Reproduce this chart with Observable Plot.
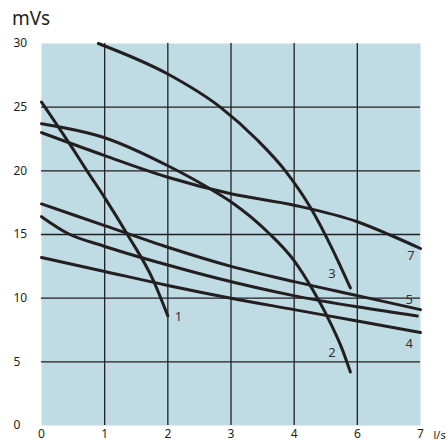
<!DOCTYPE html>
<html><head><meta charset="utf-8">
<script src="https://cdn.jsdelivr.net/npm/d3@7"></script>
<script src="https://cdn.jsdelivr.net/npm/@observablehq/plot@0.6"></script>
<style>
body{margin:0;background:#fff;font-family:"Noto Sans",Lato,sans-serif;color:#231f20;}
#title{height:32px;box-sizing:border-box;padding:9px 0 0 12px;font-size:19px;line-height:19px;}
</style></head>
<body>
<div id="title">mVs</div>
<div id="chart"></div>
<script>
// x positions 0..6 on the grid, labelled as in the original
const xTicks = [0, 1, 2, 3, 4, 5, 6];
const xTickLabels = ["0", "1", "2", "3", "4", "6", "7"];
const yTicks = [0, 5, 10, 15, 20, 25, 30];

const curve1X = [0, 0.5, 0.72, 1, 1.36, 1.77, 2];
const curve1Y = [25.4, 21.7, 20, 17.9, 15, 11.4, 8.6];
const curve2X = [0, 1, 2, 2.7, 3.02, 3.58, 3.99, 4.3, 4.53, 4.76, 4.89];
const curve2Y = [23.7, 22.6, 20.4, 18.5, 17.5, 15.2, 13.0, 10.6, 8.5, 6.0, 4.2];
const curve3X = [0.9, 2, 2.83, 3.42, 3.86, 4.26, 4.62, 4.89];
const curve3Y = [30, 27.6, 25.0, 22.4, 20.0, 17.1, 13.7, 10.8];
const curve4X = [0, 1, 2, 3, 4, 5, 6];
const curve4Y = [13.2, 12.1, 11.0, 10.0, 9.1, 8.2, 7.3];
const curve5X = [0, 1, 2, 3, 4, 5, 6];
const curve5Y = [17.4, 15.7, 14.0, 12.5, 11.3, 10.2, 9.1];
const curve6X = [0, 0.41, 0.98, 2, 2.83, 3.99, 5.02, 5.95];
const curve6Y = [16.4, 15.1, 14.1, 12.6, 11.5, 10.2, 9.3, 8.6];
const curve7X = [0, 1, 2, 3, 4, 5, 5.5, 6];
const curve7Y = [23.0, 21.2, 19.5, 18.2, 17.3, 16.0, 15.0, 13.9];

const labelText = ["1", "2", "3", "4", "5", "7"];
const labelX = [2.17, 4.6, 4.6, 5.82, 5.82, 5.85];
const labelY = [8.5, 5.7, 11.9, 6.4, 9.9, 13.3];

const curves = [
  ["1", curve1X, curve1Y], ["2", curve2X, curve2Y], ["3", curve3X, curve3Y],
  ["4", curve4X, curve4Y], ["5", curve5X, curve5Y], ["6", curve6X, curve6Y],
  ["7", curve7X, curve7Y]
];
const rows = curves.flatMap(([id, xs, ys]) => xs.map((x, i) => ({id, x, y: ys[i]})));
const labels = labelText.map((t, i) => ({t, x: labelX[i], y: labelY[i]}));

const ink = "#231f20";
const chart = Plot.plot({
  width: 446,
  height: 411,
  marginTop: 11,
  marginBottom: 18,
  marginLeft: 41,
  marginRight: 26,
  style: {fontFamily: "'Noto Sans', Lato, sans-serif", fontSize: "12px", color: ink, background: "#fff"},
  x: {domain: [0, 6]},
  y: {domain: [0, 30]},
  marks: [
    Plot.frame({fill: "#bfdbe4", stroke: null}),
    Plot.gridX(xTicks.slice(1, -1), {stroke: ink, strokeOpacity: 1, strokeWidth: 1.3}),
    Plot.gridY(yTicks.slice(1, -1), {stroke: ink, strokeOpacity: 1, strokeWidth: 1.3}),
    Plot.line(rows, {x: "x", y: "y", z: "id", stroke: ink, strokeWidth: 3, curve: "monotone-x"}),
    Plot.text(labels, {x: "x", y: "y", text: "t", fill: "#333", fontSize: 13}),
    Plot.axisX({ticks: xTicks, tickFormat: (d, i) => xTickLabels[i], tickSize: 0, tickPadding: 4, label: null, fontSize: 12}),
    Plot.axisY({ticks: yTicks, tickSize: 0, tickPadding: 28, textAnchor: "start", label: null, fontSize: 12}),
    Plot.text(["l/s"], {frameAnchor: "bottom-right", dx: 13, dy: 10, textAnchor: "start", lineAnchor: "middle", fontSize: 11, fill: ink})
  ]
});
document.getElementById("chart").appendChild(chart);
</script>
</body></html>
